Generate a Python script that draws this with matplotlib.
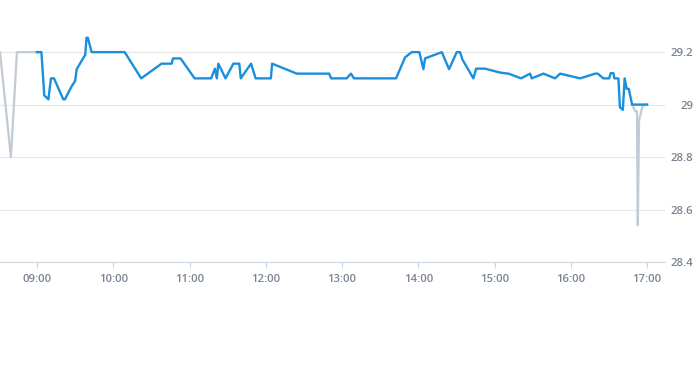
import pandas as pd
import matplotlib
matplotlib.use("Agg")
import matplotlib.pyplot as plt
import matplotlib.dates as mdates

day = "2024-01-02 "

# intraday price (blue)
price_times = [
    "09:00:00", "09:03:30", "09:05:45", "09:09:00", "09:11:00", "09:13:24", "09:20:42", "09:22:00",
    "09:27:18", "09:30:00", "09:31:15", "09:38:00", "09:39:00", "09:40:00", "09:43:00", "10:09:00",
    "10:22:00", "10:38:00", "10:46:00", "10:47:00", "10:53:00", "11:04:00", "11:17:00", "11:20:00",
    "11:21:30", "11:22:40", "11:28:20", "11:34:30", "11:39:10", "11:40:20", "11:48:25", "11:52:00",
    "12:04:00", "12:05:00", "12:24:25", "12:49:50", "12:51:25", "13:03:40", "13:07:00", "13:09:25",
    "13:42:30", "13:49:35", "13:54:50", "14:00:50", "14:04:00", "14:05:20", "14:18:30", "14:24:10",
    "14:30:15", "14:32:50", "14:34:40", "14:43:20", "14:45:30", "14:52:30", "15:04:20", "15:10:55",
    "15:20:55", "15:27:55", "15:29:15", "15:38:25", "15:47:35", "15:51:35", "16:07:20", "16:19:05",
    "16:21:10", "16:25:35", "16:30:05", "16:31:25", "16:33:30", "16:34:15", "16:37:25", "16:38:35",
    "16:40:55", "16:42:20", "16:43:55", "16:45:35", "16:48:10", "17:00:00",
]
price_values = [
    29.20, 29.20, 29.035, 29.02, 29.10, 29.10, 29.02, 29.02,
    29.07, 29.09, 29.135, 29.19, 29.255, 29.255, 29.20, 29.20,
    29.10, 29.156, 29.156, 29.176, 29.176, 29.10, 29.10, 29.137,
    29.10, 29.156, 29.10, 29.156, 29.156, 29.10, 29.156, 29.10,
    29.10, 29.156, 29.118, 29.118, 29.10, 29.10, 29.118, 29.10,
    29.10, 29.18, 29.20, 29.20, 29.135, 29.176, 29.20, 29.135,
    29.20, 29.20, 29.172, 29.10, 29.137, 29.137, 29.122, 29.118,
    29.10, 29.118, 29.10, 29.118, 29.10, 29.118, 29.10, 29.118,
    29.118, 29.10, 29.10, 29.12, 29.12, 29.10, 29.10, 28.99,
    28.98, 29.10, 29.06, 29.06, 29.00, 29.00,
]

# pre-open / closing auction (grey)
auction_times = ["08:30:55", "08:39:30", "08:44:15", "09:02:20",
                 "16:48:10", "16:50:30", "16:52:00", "16:52:40", "16:53:40", "16:56:10", "16:58:00", "17:00:00"]
auction_values = [29.20, 28.80, 29.20, 29.20,
                  29.00, 28.975, 28.975, 28.54, 28.94, 28.99, 29.00, 29.00]

y_ticks = [28.4, 28.6, 28.8, 29.0, 29.2]
y_labels = ["28.4", "28.6", "28.8", "29", "29.2"]

t_price = pd.to_datetime([day + t for t in price_times])
t_auc = pd.to_datetime([day + t for t in auction_times])

fig = plt.figure(figsize=(6.95, 3.7), dpi=100)
ax = fig.add_axes([0, 0.292, 0.957, 0.638])

# grey line drawn as two pieces (before open, closing auction)
ax.plot(t_auc[:4], auction_values[:4], color="#c2cbd3", lw=1.6, zorder=2)
ax.plot(t_auc[4:], auction_values[4:], color="#c2cbd3", lw=1.6, zorder=2)
ax.plot(t_price, price_values, color="#1a8fdc", lw=1.7, zorder=3)

ax.set_xlim(pd.Timestamp(day + "08:30:55"), pd.Timestamp(day + "17:14:10"))
ax.set_ylim(28.4, 29.3)

ax.xaxis.set_major_locator(mdates.HourLocator())
ax.xaxis.set_major_formatter(mdates.DateFormatter("%H:%M"))

ax.yaxis.tick_right()
ax.set_yticks(y_ticks)
ax.set_yticklabels(y_labels)
for lab in ax.get_yticklabels():
    lab.set_horizontalalignment("right")

ax.tick_params(axis="y", length=0, pad=20.5, labelsize=8.2, labelcolor="#7a8593")
ax.tick_params(axis="x", length=4, width=0.8, color="#ccd6e0", pad=5,
               labelsize=8.2, labelcolor="#7a8593")
for lab in ax.get_xticklabels() + ax.get_yticklabels():
    lab.set_fontweight("semibold")
    lab.set_fontfamily("Open Sans")

ax.grid(axis="y", color="#e6e6e6", lw=0.8)
ax.set_axisbelow(True)
for s in ["top", "left", "right"]:
    ax.spines[s].set_visible(False)
ax.spines["bottom"].set_color("#ccd6e0")

fig.savefig("out.png", dpi=100)
